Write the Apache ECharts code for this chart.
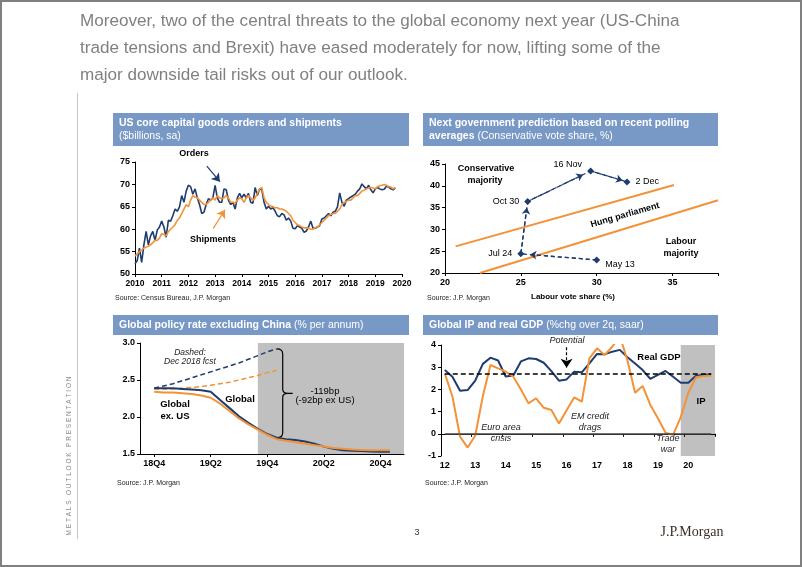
<!DOCTYPE html>
<html><head><meta charset="utf-8">
<script src="https://cdn.jsdelivr.net/npm/echarts@6/dist/echarts.min.js"></script>
<style>html,body{margin:0;padding:0;background:#fff}#c{width:802px;height:567px}</style>
</head><body><div id="c"></div>
<script>
// ---------- Panel 1: US core capital goods (monthly, Jan 2010 onward) ----------
const capStartYear = 2010;
const ordersValues = [
52.3,53.0,55.8,52.6,56.5,59.5,56.5,58.5,59.5,57.5,59.8,60.5,
61.8,60.5,58.2,62.0,61.8,63.0,64.5,64.0,65.0,67.5,66.0,68.5,
69.8,69.5,67.8,69.0,67.0,65.5,63.5,63.8,65.5,66.8,66.5,67.0,
69.8,67.0,66.0,66.0,69.0,68.8,66.5,65.5,66.0,64.5,67.0,68.0,
67.0,67.8,67.0,68.0,66.0,65.8,69.3,67.5,69.0,68.8,66.0,64.5,
65.1,64.5,64.8,64.0,63.0,62.8,63.5,63.2,62.0,62.5,61.8,60.2,
60.1,60.8,60.5,60.2,59.3,59.6,60.5,61.8,60.2,60.2,60.5,60.8,
62.3,62.5,63.0,63.5,63.0,63.8,64.0,65.0,68.1,66.0,65.1,66.5,
66.8,67.2,67.5,67.8,68.5,69.0,70.1,69.5,69.0,69.8,68.8,68.1,
69.0,69.3,69.0,68.8,68.9,69.6,69.4,69.0,68.8,69.2];
const shipmentsValues = [
54.0,54.5,55.0,55.3,55.8,56.0,56.2,56.5,57.0,57.5,57.5,58.0,
59.0,58.8,58.5,59.5,60.0,60.5,61.0,62.0,62.5,63.5,64.5,65.5,
65.0,66.5,67.5,67.2,67.0,66.5,66.0,65.5,65.5,66.0,66.5,67.0,
66.5,67.5,67.0,66.8,67.0,67.5,67.0,66.0,66.0,65.8,66.5,67.0,
66.8,66.0,67.0,67.5,67.0,66.5,67.0,68.0,69.0,69.3,67.0,66.0,
65.5,65.2,65.0,64.8,64.8,64.5,64.5,64.3,64.0,63.5,63.0,62.0,
61.5,61.0,60.8,60.5,60.3,60.3,60.2,60.0,60.0,60.3,60.5,61.0,
61.5,62.0,62.5,63.0,63.3,63.5,63.5,64.0,64.5,65.5,66.0,66.2,
66.5,66.5,67.0,67.5,67.5,68.0,68.5,68.7,69.0,69.2,69.3,69.2,
69.0,69.5,69.7,69.8,70.0,69.8,69.5,69.4,69.0,69.3];

// ---------- Panel 2: polling path ----------
const pollNames = ['May 13','Jul 24','Oct 30','16 Nov','2 Dec'];
const pollLabour = [30.0, 25.0, 25.45, 29.6, 32.0];
const pollConservative = [23.0, 24.4, 36.4, 43.4, 40.9];
const hungUpper = [[20.7, 26.1],[35.1, 40.2]];
const hungLower = [[22.3, 20.0],[38.0, 36.7]];

// ---------- Panel 3: global policy rate (monthly) ----------
const policyMonths = ['Nov18','Dec18','Jan19','Feb19','Mar19','Apr19','May19','Jun19','Jul19','Aug19','Sep19','Oct19','Nov19','Dec19','Jan20','Feb20','Mar20','Apr20','May20','Jun20','Jul20','Aug20','Sep20','Oct20','Nov20','Dec20','Jan21','Feb21'];
const policyTickMonths = ['Dec18','Jun19','Dec19','Jun20','Dec20'];
const policyTickLabels = ['18Q4','19Q2','19Q4','20Q2','20Q4'];
const globalRate = [null,2.39,2.39,2.39,2.38,2.37,2.36,2.34,2.23,2.12,2.01,1.92,1.84,1.77,1.72,1.70,1.69,1.67,1.64,1.60,1.57,1.55,1.545,1.54,1.535,1.53,1.53];
const exUSRate = [null,2.34,2.33,2.33,2.32,2.31,2.29,2.26,2.18,2.08,1.98,1.90,1.83,1.76,1.70,1.68,1.66,1.64,1.62,1.60,1.58,1.57,1.56,1.555,1.55,1.55,1.55];
const globalFcst = [null,2.39,2.42,2.45,2.49,2.53,2.57,2.61,2.65,2.69,2.73,2.78,2.83,2.88,2.92];
const exUSFcst = [null,2.38,2.38,2.38,2.39,2.40,2.41,2.43,2.45,2.47,2.50,2.53,2.56,2.60,2.63];

// ---------- Panel 4: Global IP and real GDP (quarterly) ----------
const ipQuarters = [];
for (let y = 12; y <= 20; y++) for (let q = 1; q <= 4; q++) ipQuarters.push(y + 'Q' + q);
const realGDP = [2.87,2.57,1.94,1.97,2.40,3.15,3.43,3.30,2.58,2.63,3.26,3.40,3.37,3.20,2.82,2.39,2.45,2.80,2.77,3.17,3.60,3.58,3.70,3.78,3.45,3.17,2.87,2.47,2.65,2.83,2.57,2.30,2.30,2.62,2.65,2.68];
const globalIP = [2.72,1.68,-0.12,-0.62,-0.08,1.70,3.10,2.95,2.80,2.57,2.00,1.37,1.60,1.17,1.07,0.46,1.06,1.64,1.45,3.40,3.85,3.55,3.92,4.40,3.30,1.85,2.15,1.30,0.70,0.05,-0.05,0.75,1.85,2.55,2.60,2.62];
const potentialGrowth = 2.7;

// ---------- styles ----------
const NAVY = '#1f3c6e', ORANGE = '#f39237', BAR = '#7898c6';
const FF = '"Liberation Sans", Arial, sans-serif';
const axisCommon = {
  axisLine: {show: true, lineStyle: {color: '#000', width: 1}},
  axisTick: {show: true, length: 3, lineStyle: {color: '#000'}},
  splitLine: {show: false},
  axisLabel: {color: '#000', fontFamily: FF, fontWeight: 'bold', fontSize: 9, margin: 5},
  z: 3
};
function ax(extra) { return echarts.util.merge(echarts.util.clone(axisCommon), extra, true); }
function txt(x, y, text, font, opt) {
  opt = opt || {};
  return {type: 'text', x: x, y: y, rotation: opt.rotation || 0, z: 50,
    style: {text: text, font: font, fill: opt.fill || '#000',
      align: opt.align || 'center', verticalAlign: 'middle',
      textAlign: opt.align || 'center', textVerticalAlign: 'middle'}};
}
function titleBar(x, y, w, h, text) {
  return [
    {type: 'rect', shape: {x: x, y: y, width: w, height: h}, style: {fill: BAR}, z: 10},
    {type: 'text', x: x + 6, y: y + h / 2, z: 11,
      style: {text: text, verticalAlign: 'middle', textVerticalAlign: 'middle', align: 'left',
        rich: {b: {font: 'bold 10.5px ' + FF, fill: '#fff', lineHeight: 13},
               n: {font: '10.5px ' + FF, fill: '#fff', lineHeight: 13}}}}
  ];
}
function arrowLine(from, to, size) {
  return [{coord: from, symbol: 'none'}, {coord: to, symbol: 'arrow', symbolSize: size}];
}

const pollData = pollNames.map((n, i) => {
  const pos = [['right', [0, 5]], ['left', [0, 0]], ['left', [0, 0]], ['left', [0, -6]], ['right', [0, 0]]][i];
  return {name: n, value: [pollLabour[i], pollConservative[i]],
    label: {show: true, formatter: n, position: pos[0], offset: pos[1], distance: 5,
      color: '#000', fontFamily: FF, fontSize: 9}};
});
const pollArrows = [];
for (let i = 0; i < pollLabour.length - 1; i++) {
  const a = [pollLabour[i], pollConservative[i]], b = [pollLabour[i + 1], pollConservative[i + 1]];
  const f = 0.88;
  pollArrows.push(arrowLine(a, [a[0] + (b[0] - a[0]) * f, a[1] + (b[1] - a[1]) * f], 6.5));
}

const gfx = [
  {type: 'rect', shape: {x: 1, y: 1, width: 800, height: 565}, style: {fill: null, stroke: '#808080', lineWidth: 2}, z: 100},
  txt(80, 21, 'Moreover, two of the central threats to the global economy next year (US-China', '17.1px ' + FF, {align: 'left', fill: '#808080'}),
  txt(80, 48, 'trade tensions and Brexit) have eased moderately for now, lifting some of the', '17.1px ' + FF, {align: 'left', fill: '#808080'}),
  txt(80, 75, 'major downside tail risks out of our outlook.', '17.1px ' + FF, {align: 'left', fill: '#808080'}),
  {type: 'line', shape: {x1: 77.5, y1: 93, x2: 77.5, y2: 539}, style: {stroke: '#c8c8c8', lineWidth: 1}},
  txt(69, 456, 'M E T A L S   O U T L O O K   P R E S E N T A T I O N', '6.5px ' + FF, {rotation: Math.PI / 2, fill: '#8a8a8a'}),
  txt(417, 533, '3', '9px ' + FF, {fill: '#333'}),
  txt(692, 532, 'J.P.Morgan', '14px "Liberation Serif", "Times New Roman", serif', {fill: '#3d2e25'}),
  ...titleBar(113, 113, 296, 33, '{b|US core capital goods orders and shipments}\n{n|($billions, sa)}'),
  ...titleBar(423, 113, 295, 33, '{b|Next government prediction based on recent polling}\n{b|averages}{n| (Conservative vote share, %)}'),
  ...titleBar(113, 315, 296, 20, '{b|Global policy rate excluding China}{n| (% per annum)}'),
  ...titleBar(423, 315, 295, 20, '{b|Global IP and real GDP}{n| (%chg over 2q, saar)}'),
  txt(115, 298, 'Source: Census Bureau, J.P. Morgan', '7px ' + FF, {align: 'left', fill: '#222'}),
  txt(427, 298, 'Source: J.P. Morgan', '7px ' + FF, {align: 'left', fill: '#222'}),
  txt(117, 483, 'Source: J.P. Morgan', '7px ' + FF, {align: 'left', fill: '#222'}),
  txt(425, 483, 'Source: J.P. Morgan', '7px ' + FF, {align: 'left', fill: '#222'}),
  // panel 1 notes
  txt(194, 154, 'Orders', 'bold 9px ' + FF),
  txt(213, 240, 'Shipments', 'bold 9px ' + FF),
  // panel 2 notes
  txt(486, 169, 'Conservative', 'bold 9px ' + FF),
  txt(485, 181, 'majority', 'bold 9px ' + FF),
  txt(625, 215, 'Hung parliament', 'bold 9px ' + FF, {rotation: 16 * Math.PI / 180}),
  txt(681, 242, 'Labour', 'bold 9px ' + FF),
  txt(681, 254, 'majority', 'bold 9px ' + FF),
  txt(573, 297, 'Labour vote share (%)', 'bold 8px ' + FF),
  // panel 3 notes
  txt(190, 353, 'Dashed:', 'italic 8.5px ' + FF, {fill: '#222'}),
  txt(190, 362, 'Dec 2018 fcst', 'italic 8.5px ' + FF, {fill: '#222'}),
  txt(175, 404, 'Global', 'bold 9.5px ' + FF),
  txt(175, 416, 'ex. US', 'bold 9.5px ' + FF),
  txt(240, 399, 'Global', 'bold 9.5px ' + FF),
  txt(325, 391, '-119bp', '9.5px ' + FF),
  txt(325, 400, '(-92bp ex US)', '9.5px ' + FF),
  // panel 4 notes
  txt(567, 340, 'Potential', 'italic 9px ' + FF, {fill: '#222'}),
  txt(659, 357, 'Real GDP', 'bold 9.5px ' + FF),
  txt(701, 401, 'IP', 'bold 9.5px ' + FF),
  txt(501, 427, 'Euro area', 'italic 9px ' + FF, {fill: '#222'}),
  txt(501, 438, 'crisis', 'italic 9px ' + FF, {fill: '#222'}),
  txt(590, 416, 'EM credit', 'italic 9px ' + FF, {fill: '#222'}),
  txt(590, 427, 'drags', 'italic 9px ' + FF, {fill: '#222'}),
  txt(668, 438, 'Trade', 'italic 9px ' + FF, {fill: '#222'}),
  txt(668, 449, 'war', 'italic 9px ' + FF, {fill: '#222'})
];

const option = {
  animation: false,
  backgroundColor: '#fff',
  graphic: {elements: gfx},
  grid: [
    {left: 135, top: 162, width: 267, height: 112},
    {left: 445, top: 164, width: 273, height: 109},
    {left: 140, top: 343, width: 264, height: 111},
    {left: 441, top: 345, width: 274, height: 111}
  ],
  xAxis: [
    ax({gridIndex: 0, type: 'value', min: 2010, max: 2020, interval: 1, axisLabel: {formatter: v => String(v), fontSize: 8.5}}),
    ax({gridIndex: 1, type: 'value', min: 20, max: 38, interval: 5, axisLabel: {formatter: v => (v % 5 === 0 ? String(v) : '')}}),
    ax({gridIndex: 2, type: 'category', data: policyMonths, boundaryGap: true,
        axisLabel: {interval: (i, v) => policyTickMonths.indexOf(v) >= 0, formatter: v => policyTickLabels[policyTickMonths.indexOf(v)] || ''},
        axisTick: {interval: (i, v) => policyTickMonths.indexOf(v) >= 0, alignWithLabel: true}}),
    {gridIndex: 2, type: 'value', min: 0, max: policyMonths.length, show: false},
    ax({gridIndex: 3, type: 'category', data: ipQuarters, boundaryGap: true,
        axisLabel: {interval: 3, formatter: v => v.slice(0, 2)},
        axisTick: {interval: 3}}),
    {gridIndex: 3, type: 'value', min: 0, max: ipQuarters.length, show: false}
  ],
  yAxis: [
    ax({gridIndex: 0, type: 'value', min: 50, max: 75, interval: 5}),
    ax({gridIndex: 1, type: 'value', min: 20, max: 45, interval: 5}),
    ax({gridIndex: 2, type: 'value', min: 1.5, max: 3.0, interval: 0.5, axisLabel: {formatter: v => v.toFixed(1)}}),
    ax({gridIndex: 3, type: 'value', min: -1, max: 4, interval: 1})
  ],
  series: [
    // Panel 1
    {type: 'line', xAxisIndex: 0, yAxisIndex: 0, showSymbol: false, symbol: 'none',
      data: ordersValues.map((v, i) => [capStartYear + i / 12, v]),
      lineStyle: {color: NAVY, width: 1.6}, itemStyle: {color: NAVY},
      markLine: {silent: true, symbol: ['none', 'none'], label: {show: false},
        lineStyle: {color: NAVY, width: 1.2, type: 'solid'},
        data: [arrowLine([2012.69, 74.1], [2013.18, 70.6], 8)]}},
    {type: 'line', xAxisIndex: 0, yAxisIndex: 0, showSymbol: false, symbol: 'none',
      data: shipmentsValues.map((v, i) => [capStartYear + i / 12, v]),
      lineStyle: {color: ORANGE, width: 1.6}, itemStyle: {color: ORANGE},
      markLine: {silent: true, symbol: ['none', 'none'], label: {show: false},
        lineStyle: {color: ORANGE, width: 1.2, type: 'solid'},
        data: [arrowLine([2012.93, 60.2], [2013.37, 64.3], 8)]}},
    // Panel 2
    {type: 'line', xAxisIndex: 1, yAxisIndex: 1, symbol: 'none', data: hungUpper, lineStyle: {color: ORANGE, width: 2}},
    {type: 'line', xAxisIndex: 1, yAxisIndex: 1, symbol: 'none', data: hungLower, lineStyle: {color: ORANGE, width: 2}},
    {type: 'line', xAxisIndex: 1, yAxisIndex: 1, symbol: 'diamond', symbolSize: 7, data: pollData,
      lineStyle: {color: NAVY, width: 1.3, type: [4, 3]}, itemStyle: {color: NAVY},
      markLine: {silent: true, symbol: ['none', 'none'], label: {show: false},
        lineStyle: {color: NAVY, width: 1.3, type: [4, 3]}, data: pollArrows}},
    // Panel 3
    {type: 'line', xAxisIndex: 3, yAxisIndex: 2, data: [], symbol: 'none',
      markArea: {silent: true, itemStyle: {color: '#c0c0c0'}, data: [[{xAxis: 12.5}, {xAxis: policyMonths.length}]]}},
    {type: 'line', xAxisIndex: 2, yAxisIndex: 2, symbol: 'none', data: globalFcst, lineStyle: {color: NAVY, width: 1.5, type: [5, 3]}},
    {type: 'line', xAxisIndex: 2, yAxisIndex: 2, symbol: 'none', data: exUSFcst, lineStyle: {color: ORANGE, width: 1.5, type: [5, 3]}},
    {type: 'line', xAxisIndex: 2, yAxisIndex: 2, symbol: 'none', data: globalRate, lineStyle: {color: NAVY, width: 2}},
    {type: 'line', xAxisIndex: 2, yAxisIndex: 2, symbol: 'none', data: exUSRate, lineStyle: {color: ORANGE, width: 2}},
    {type: 'custom', xAxisIndex: 2, yAxisIndex: 2, data: [[globalFcst.length - 1, globalFcst[globalFcst.length - 1], globalRate[globalFcst.length - 1]]],
      renderItem: function (params, api) {
        const t = api.coord([api.value(0), api.value(1)]);
        const b = api.coord([api.value(0), api.value(2)]);
        const x = t[0], w = 6, ym = (t[1] + b[1]) / 2;
        const d = 'M' + x + ' ' + t[1] + ' Q' + (x + w) + ' ' + t[1] + ' ' + (x + w) + ' ' + (t[1] + 5) +
          ' L' + (x + w) + ' ' + (ym - 4) + ' Q' + (x + w) + ' ' + ym + ' ' + (x + w + 5) + ' ' + ym +
          ' L' + (x + w + 10) + ' ' + ym +
          ' M' + (x + w + 5) + ' ' + ym + ' Q' + (x + w) + ' ' + ym + ' ' + (x + w) + ' ' + (ym + 4) +
          ' L' + (x + w) + ' ' + (b[1] - 5) + ' Q' + (x + w) + ' ' + b[1] + ' ' + x + ' ' + b[1];
        return {type: 'path', shape: {pathData: d}, style: {stroke: '#000', fill: null, lineWidth: 1.2}};
      }},
    // Panel 4
    {type: 'line', xAxisIndex: 5, yAxisIndex: 3, data: [], symbol: 'none',
      markArea: {silent: true, itemStyle: {color: '#c0c0c0'}, data: [[{xAxis: 31.5}, {xAxis: ipQuarters.length}]]}},
    {type: 'line', xAxisIndex: 4, yAxisIndex: 3, symbol: 'none', data: realGDP, lineStyle: {color: NAVY, width: 2},
      markLine: {silent: true, label: {show: false}, symbol: ['none', 'none'],
        data: [
          [{coord: [ipQuarters[0], potentialGrowth], lineStyle: {color: '#000', width: 1.5, type: [5, 3]}},
           {coord: [ipQuarters[ipQuarters.length - 1], potentialGrowth]}],
          [{coord: [ipQuarters[0], 0], lineStyle: {color: '#444', width: 1.5, type: 'solid'}},
           {coord: [ipQuarters[ipQuarters.length - 1], 0]}],
          [{coord: [15.7, 3.9], symbol: 'none', lineStyle: {color: '#000', width: 1.2, type: [3, 2]}},
           {coord: [15.6, 2.98], symbol: 'arrow', symbolSize: 9}]
        ]}},
    {type: 'line', xAxisIndex: 4, yAxisIndex: 3, symbol: 'none', data: globalIP, lineStyle: {color: ORANGE, width: 2}}
  ]
};
const chart = echarts.init(document.getElementById('c'), null, {renderer: 'canvas', width: 802, height: 567});
chart.setOption(option);
</script>
</body></html>
